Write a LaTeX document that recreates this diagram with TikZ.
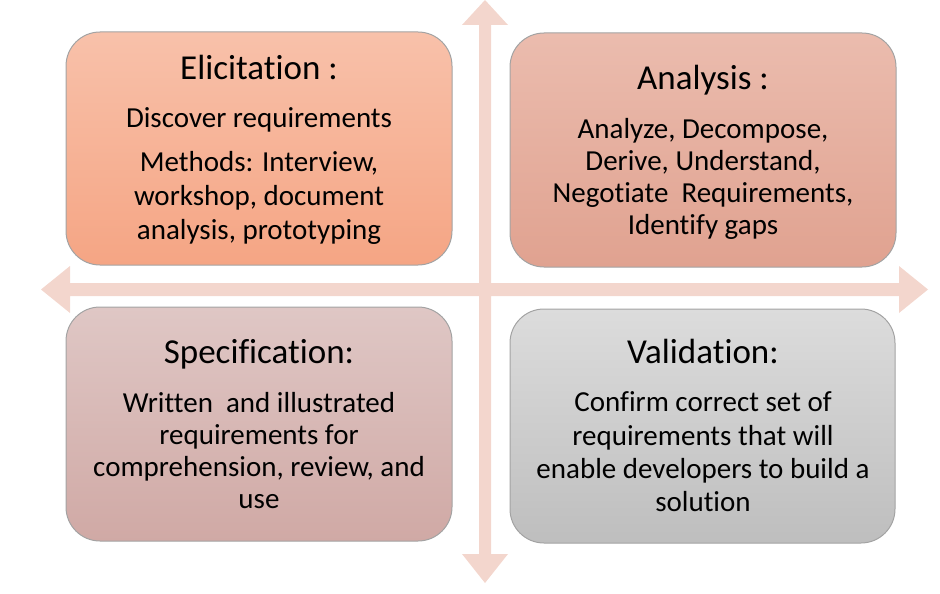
\documentclass[tikz,border=0pt]{standalone}
\usepackage{fontspec}
\setmainfont{Carlito}[Ligatures={NoCommon}]
\definecolor{arrowpink}{HTML}{F3D6CD}
\definecolor{elitop}{HTML}{F8C1AA}
\definecolor{elibot}{HTML}{F5A584}
\definecolor{anatop}{HTML}{EBBCAE}
\definecolor{anabot}{HTML}{E0A290}
\definecolor{spectop}{HTML}{DFC7C5}
\definecolor{specbot}{HTML}{D0A9A5}
\definecolor{valtop}{HTML}{DCDCDC}
\definecolor{valbot}{HTML}{BEBEBE}
\definecolor{boxborder}{HTML}{A3A3A3}
\tikzset{
  quadbox/.style={draw=boxborder, line width=1pt, rounded corners=34pt, inner sep=0pt},
  titletext/.style={anchor=base, inner sep=0pt, font=\fontsize{35}{40}\selectfont},
  bodytext/.style={anchor=base, inner sep=0pt, align=center, font=\fontsize{29}{32}\selectfont},
  axis/.style={fill=arrowpink, draw=none}
}
\begin{document}
\begin{tikzpicture}[x=1pt,y=-1pt]
\useasboundingbox (0,0) rectangle (940,594);
% axes
\fill[axis] (485,0) -- (508,25) -- (491,25) -- (491,283) -- (899,283) -- (899,266) -- (928,289.5)
  -- (899,313) -- (899,296) -- (491,296) -- (491,554) -- (508,554) -- (485,583) -- (462,554)
  -- (479,554) -- (479,296) -- (70,296) -- (70,313) -- (41,289.5) -- (70,266) -- (70,283)
  -- (479,283) -- (479,25) -- (462,25) -- cycle;
% boxes
\path[quadbox, top color=elitop, bottom color=elibot] (66,32) rectangle (452,265);
\node[inner sep=0pt] (eli) at (259,148.5) {};
\path[quadbox, top color=anatop, bottom color=anabot] (510,33) rectangle (896,267);
\node[inner sep=0pt] (ana) at (703,150) {};
\path[quadbox, top color=spectop, bottom color=specbot] (66,307) rectangle (452,541);
\node[inner sep=0pt] (spec) at (259,424) {};
\path[quadbox, top color=valtop, bottom color=valbot] (510,309) rectangle (895,543);
\node[inner sep=0pt] (val) at (703,426) {};
% texts (base anchor = baseline of the last line)
\node[titletext] (elititle) at (259,80) {Elicitation :};
\node[bodytext] (elib1) at (259,127) {Discover requirements};
\node[bodytext, font=\fontsize{29}{34}\selectfont] (elib2) at (259,239) {Methods: Interview,\\workshop, document\\analysis, prototyping};
\node[titletext] (anatitle) at (703,89) {Analysis :};
\node[bodytext] (anab) at (703,234.5) {Analyze, Decompose,\\Derive, Understand,\\Negotiate~ Requirements,\\Identify gaps};
\node[titletext] (spectitle) at (259,363.5) {Specification:};
\node[bodytext] (specb) at (259,508) {Written~ and illustrated\\requirements for\\comprehension, review, and\\use};
\node[titletext] (valtitle) at (703,363) {Validation:};
\node[bodytext, font=\fontsize{29}{33.2}\selectfont] (valb) at (703,511.5) {Confirm correct set of\\requirements that will\\enable developers to build a\\solution};
\end{tikzpicture}
\end{document}
